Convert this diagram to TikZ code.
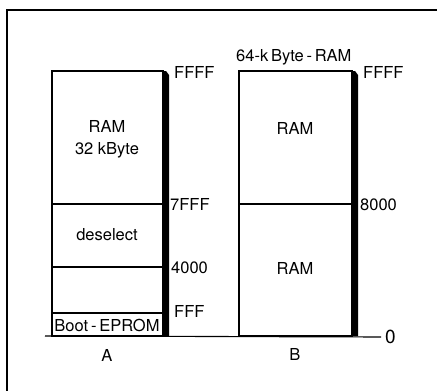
\documentclass[tikz,border=0pt]{standalone}
\usepackage{fontspec}
\setmainfont{TeX Gyre Heros}
\usetikzlibrary{positioning}
\tikzstyle{region}=[draw, line width=1.1pt]
\tikzstyle{txt}=[inner sep=0pt, font=\fontsize{16.5}{22}\selectfont, align=center]
\tikzstyle{addr}=[txt, anchor=west]
\newcommand{\busbar}[2]{\fill (#1,71) -- ++(3,0) -- ++(3,4) -- (#1+6,#2) -- (#1,#2) -- cycle;}

\begin{document}
\begin{tikzpicture}[x=1pt,y=-1pt]
	\useasboundingbox (0,0) rectangle (437,391);
	\draw[line width=1.5pt] (7,391) -- (7,10) -- (437,10);

	% column A
	\draw[region] (52,71) rectangle (163,336);
	\draw[region] (52,204) -- (163,204);
	\draw[region] (52,267) -- (163,267);
	\draw[region] (52,313) -- (163,313);
	\busbar{163}{336}
	\node[txt] (ramA) at (107,139) {RAM\\32 kByte};
	\node[txt] (desel) at (107,235) {deselect};
	\node[txt] (boot) at (107,325) {Boot\,-\,EPROM};
	\node[txt] (A) at (107,355) {A};
	\node[addr] (topA) at (174,72) {FFFF};
	\node[addr] (midA) at (170,204) {7FFF};
	\node[addr] (lowA) at (171,268) {4000};
	\node[addr] (bootA) at (174,311) {FFF};

	% column B
	\draw[region] (239,71) rectangle (352,336);
	\draw[region] (239,204) -- (352,204);
	\busbar{352}{336}
	\node[txt] (ramB1) at (295,128) {RAM};
	\node[txt] (ramB2) at (295,268) {RAM};
	\node[txt] (B) at (295,354) {B};
	\node[txt, anchor=west] (title) at (236,57) {64-k\,Byte\,-\,RAM};
	\node[addr] (topB) at (363,72) {FFFF};
	\node[addr] (midB) at (360,205) {8000};

	% base line
	\coordinate (base) at (45,336);
	\node[addr, font=\fontsize{19}{22}\selectfont] (zero) at (385,337) {0};
	\draw[region] (base) -- ([xshift=-4pt]zero.west);
\end{tikzpicture}
\end{document}
